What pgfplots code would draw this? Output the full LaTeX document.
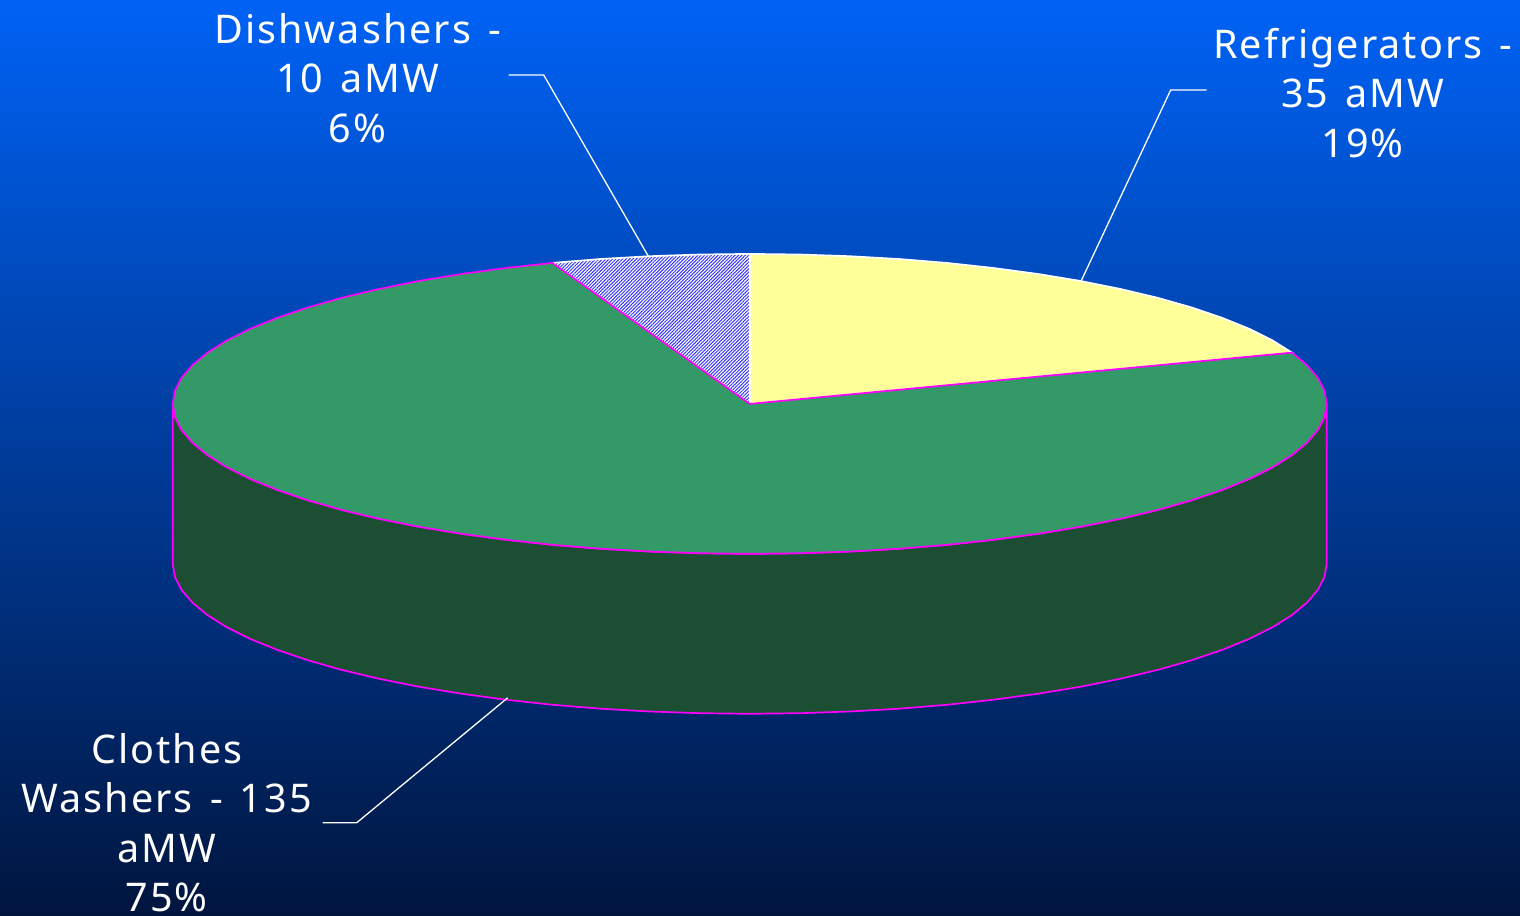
\documentclass[border=0pt]{standalone}
\usepackage{fontspec}
\setmainfont[LetterSpace=5.2,WordSpace=1.4]{Noto Sans}
\usepackage{pgfplots}
\pgfplotsset{compat=1.18}
\usetikzlibrary{patterns.meta}
\definecolor{bgtop}{RGB}{0,98,245}
\definecolor{bgbottom}{RGB}{0,21,62}
\definecolor{sideg}{RGB}{28,78,52}
\definecolor{topg}{RGB}{51,153,102}
\definecolor{fridge}{RGB}{255,255,153}
\definecolor{edge}{RGB}{255,0,255}
\definecolor{hatch}{RGB}{51,51,255}
\tikzset{slicelabel/.style={text=white, align=center, inner sep=0pt, font=\fontsize{39.5}{49.5}\selectfont}}
\begin{document}
\begin{tikzpicture}
\begin{axis}[
  scale only axis, width=1519.8pt, height=915.6pt,
  xmin=-0.7, xmax=1519.3, ymin=-1, ymax=915, y dir=reverse,
  hide axis, clip=true,
]
% backdrop
\fill[top color=bgtop, bottom color=bgbottom, draw=none]
  (rel axis cs:0,0) rectangle (rel axis cs:1,1);

% rim of the disc, front half
\addplot[fill=sideg, draw=edge, line width=1.7pt] coordinates {
 (1326,403) (1323.8,416.1) (1317.2,429) (1306.3,441.8) (1291.2,454.3) (1271.9,466.4) (1248.7,478) (1221.6,489) (1191,499.4) (1157,509.1) (1119.9,517.9) (1080,525.9) (1037.5,532.9) (992.9,538.9) (946.3,544) (898.3,547.9) (849.2,550.7) (799.3,552.4) (749,553)
 (698.7,552.4) (648.8,550.7) (599.7,547.9) (551.7,544) (505.1,538.9) (460.5,532.9) (418,525.9) (378.1,517.9) (341,509.1) (307,499.4) (276.4,489) (249.3,478) (226.1,466.4) (206.8,454.3) (191.7,441.8) (180.8,429) (174.2,416.1) (172,403)
 (172,563) (174.2,576.1) (180.8,589) (191.7,601.8) (206.8,614.3) (226.1,626.4) (249.3,638) (276.4,649) (307,659.4) (341,669.1) (378.1,677.9) (418,685.9) (460.5,692.9) (505.1,698.9) (551.7,704) (599.7,707.9) (648.8,710.7) (698.7,712.4) (749,713)
 (799.3,712.4) (849.2,710.7) (898.3,707.9) (946.3,704) (992.9,698.9) (1037.5,692.9) (1080,685.9) (1119.9,677.9) (1157,669.1) (1191,659.4) (1221.6,649) (1248.7,638) (1271.9,626.4) (1291.2,614.3) (1306.3,601.8) (1317.2,589) (1323.8,576.1) (1326,563)
} -- cycle;

% Refrigerators, 35 aMW
\addplot[fill=fridge, draw=white, line width=1.7pt] coordinates {
 (749,403) (749,253) (799.3,253.6) (849.2,255.3) (898.3,258.1) (946.3,262) (992.9,267.1) (1037.5,273.1) (1080,280.1) (1119.9,288.1) (1157,296.9) (1191,306.6) (1221.6,317) (1248.7,328) (1271.9,339.6) (1291.2,351.7)
} -- cycle;

% Dishwashers, 10 aMW
\addplot[fill=white, draw=none] coordinates {
 (749,403) (551.7,262) (599.7,258.1) (648.8,255.3) (698.7,253.6) (749,253)
} -- cycle;
\addplot[pattern={Lines[angle=45, distance=2.4pt, line width=1pt]}, pattern color=hatch, draw=white, line width=1.7pt] coordinates {
 (749,403) (551.7,262) (599.7,258.1) (648.8,255.3) (698.7,253.6) (749,253)
} -- cycle;

% Clothes Washers, 135 aMW
\addplot[fill=topg, draw=edge, line width=1.7pt] coordinates {
 (749,403) (1291.2,351.7) (1306.3,364.2) (1317.2,377) (1323.8,389.9) (1326,403)
 (1323.8,416.1) (1317.2,429) (1306.3,441.8) (1291.2,454.3) (1271.9,466.4) (1248.7,478) (1221.6,489) (1191,499.4) (1157,509.1) (1119.9,517.9) (1080,525.9) (1037.5,532.9) (992.9,538.9) (946.3,544) (898.3,547.9) (849.2,550.7) (799.3,552.4) (749,553)
 (698.7,552.4) (648.8,550.7) (599.7,547.9) (551.7,544) (505.1,538.9) (460.5,532.9) (418,525.9) (378.1,517.9) (341,509.1) (307,499.4) (276.4,489) (249.3,478) (226.1,466.4) (206.8,454.3) (191.7,441.8) (180.8,429) (174.2,416.1) (172,403)
 (174.2,389.9) (180.8,377) (191.7,364.2) (206.8,351.7) (226.1,339.6) (249.3,328) (276.4,317) (307,306.6) (341,296.9) (378.1,288.1) (418,280.1) (460.5,273.1) (505.1,267.1) (551.7,262)
} -- cycle;

% leader lines
\addplot[white, line width=1.3pt] coordinates {(508,74) (543,74) (648,256)};
\addplot[white, line width=1.3pt] coordinates {(1206,89) (1170,89) (1080,281)};
\addplot[white, line width=1.3pt] coordinates {(322,822) (356,822) (507,697)};

% slice labels
\node[slicelabel] at (axis cs:357,77) {Dishwashers -\\10 aMW\\6\%};
\node[slicelabel] at (axis cs:1362,92) {Refrigerators -\\35 aMW\\19\%};
\node[slicelabel] at (axis cs:166,822) {Clothes\\Washers - 135\\aMW\\75\%};
\end{axis}
\end{tikzpicture}
\end{document}
